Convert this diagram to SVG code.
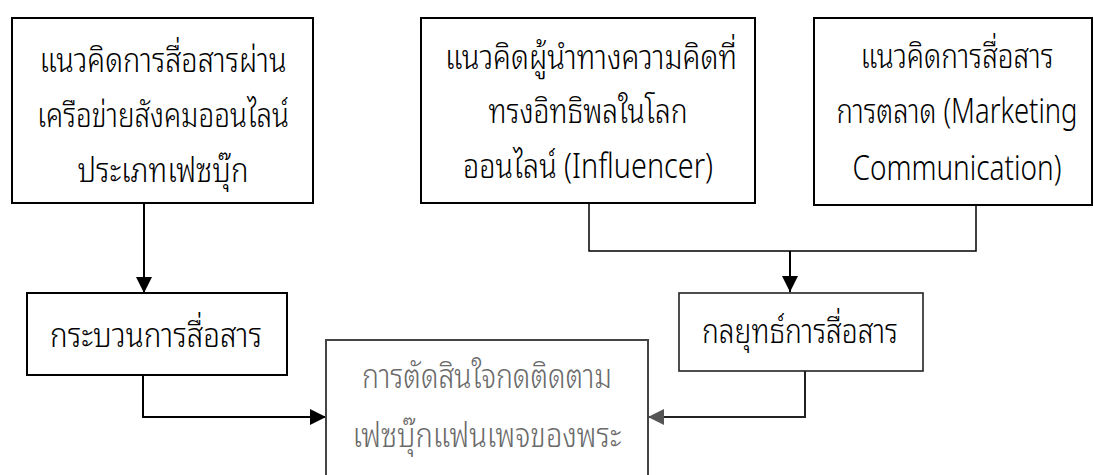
<svg xmlns="http://www.w3.org/2000/svg" width="1094" height="475" viewBox="0 0 1094 475">
<style>
.box{fill:#fff;stroke:#000;stroke-width:2}
.t{font-family:"Noto Sans Thai Looped","Noto Sans Thai","Noto Sans","DejaVu Sans",sans-serif;font-size:34px;font-weight:300;fill:#000;text-anchor:middle}
.g{fill:#6a6a6a}
.c{fill:none;stroke:#000;stroke-width:2}
.thin{stroke-width:1.5}
</style>
<defs>
<marker id="ah" markerWidth="16" markerHeight="16" viewBox="0 0 16 16" refX="16" refY="8" orient="auto" markerUnits="userSpaceOnUse"><path d="M0,0 L16,8 L0,16 Z" fill="#000"/></marker>
<marker id="ahg" markerWidth="16" markerHeight="16" viewBox="0 0 16 16" refX="16" refY="8" orient="auto" markerUnits="userSpaceOnUse"><path d="M0,0 L16,8 L0,16 Z" fill="#555"/></marker>
</defs>
<rect width="1094" height="475" fill="#fff"/>
<g id="connectors">
<path class="c" d="M144,203 V293" marker-end="url(#ah)"/>
<path class="c" d="M143,375 V417 H326" marker-end="url(#ah)"/>
<path class="c thin" d="M589,203 V251 H976 V205"/>
<path class="c" d="M790,251 V292" marker-end="url(#ah)"/>
<path class="c" style="stroke:#222" d="M805,371 V417 H648" marker-end="url(#ahg)"/>
</g>
<g id="node-facebook">
<rect class="box" x="12" y="18" width="301" height="185"/>
<text class="t" x="163" y="72" textLength="247" lengthAdjust="spacingAndGlyphs">แนวคิดการสื่อสารผ่าน</text>
<text class="t" x="163" y="127" textLength="252" lengthAdjust="spacingAndGlyphs">เครือข่ายสังคมออนไลน์</text>
<text class="t" x="163" y="182" textLength="171" lengthAdjust="spacingAndGlyphs">ประเภทเฟซบุ๊ก</text>
</g>
<g id="node-influencer">
<rect class="box" x="421" y="18" width="334" height="185"/>
<text class="t" x="591" y="69" textLength="292" lengthAdjust="spacingAndGlyphs">แนวคิดผู้นำทางความคิดที่</text>
<text class="t" x="588" y="123" textLength="199" lengthAdjust="spacingAndGlyphs">ทรงอิทธิพลในโลก</text>
<text class="t" x="588" y="178" textLength="250" lengthAdjust="spacingAndGlyphs">ออนไลน์ (Influencer)</text>
</g>
<g id="node-marketing">
<rect class="box" x="814" y="18" width="278" height="187"/>
<text class="t" x="957" y="68" textLength="193" lengthAdjust="spacingAndGlyphs">แนวคิดการสื่อสาร</text>
<text class="t" x="957" y="123" textLength="241" lengthAdjust="spacingAndGlyphs">การตลาด (Marketing</text>
<text class="t" x="957" y="180" textLength="209" lengthAdjust="spacingAndGlyphs">Communication)</text>
</g>
<g id="node-process">
<rect class="box" x="27" y="293" width="260" height="82"/>
<text class="t" x="156" y="347" textLength="212" lengthAdjust="spacingAndGlyphs">กระบวนการสื่อสาร</text>
</g>
<g id="node-strategy">
<rect class="box" style="stroke-width:1.6;stroke:#222" x="679" y="293" width="244" height="78"/>
<text class="t" x="800" y="343" textLength="196" lengthAdjust="spacingAndGlyphs">กลยุทธ์การสื่อสาร</text>
</g>
<g id="node-decision">
<rect class="box" style="stroke:#444" x="326" y="340" width="322" height="145"/>
<text class="t g" x="487" y="388" textLength="250" lengthAdjust="spacingAndGlyphs">การตัดสินใจกดติดตาม</text>
<text class="t g" x="487" y="447" textLength="269" lengthAdjust="spacingAndGlyphs">เฟซบุ๊กแฟนเพจของพระ</text>
</g>
</svg>
